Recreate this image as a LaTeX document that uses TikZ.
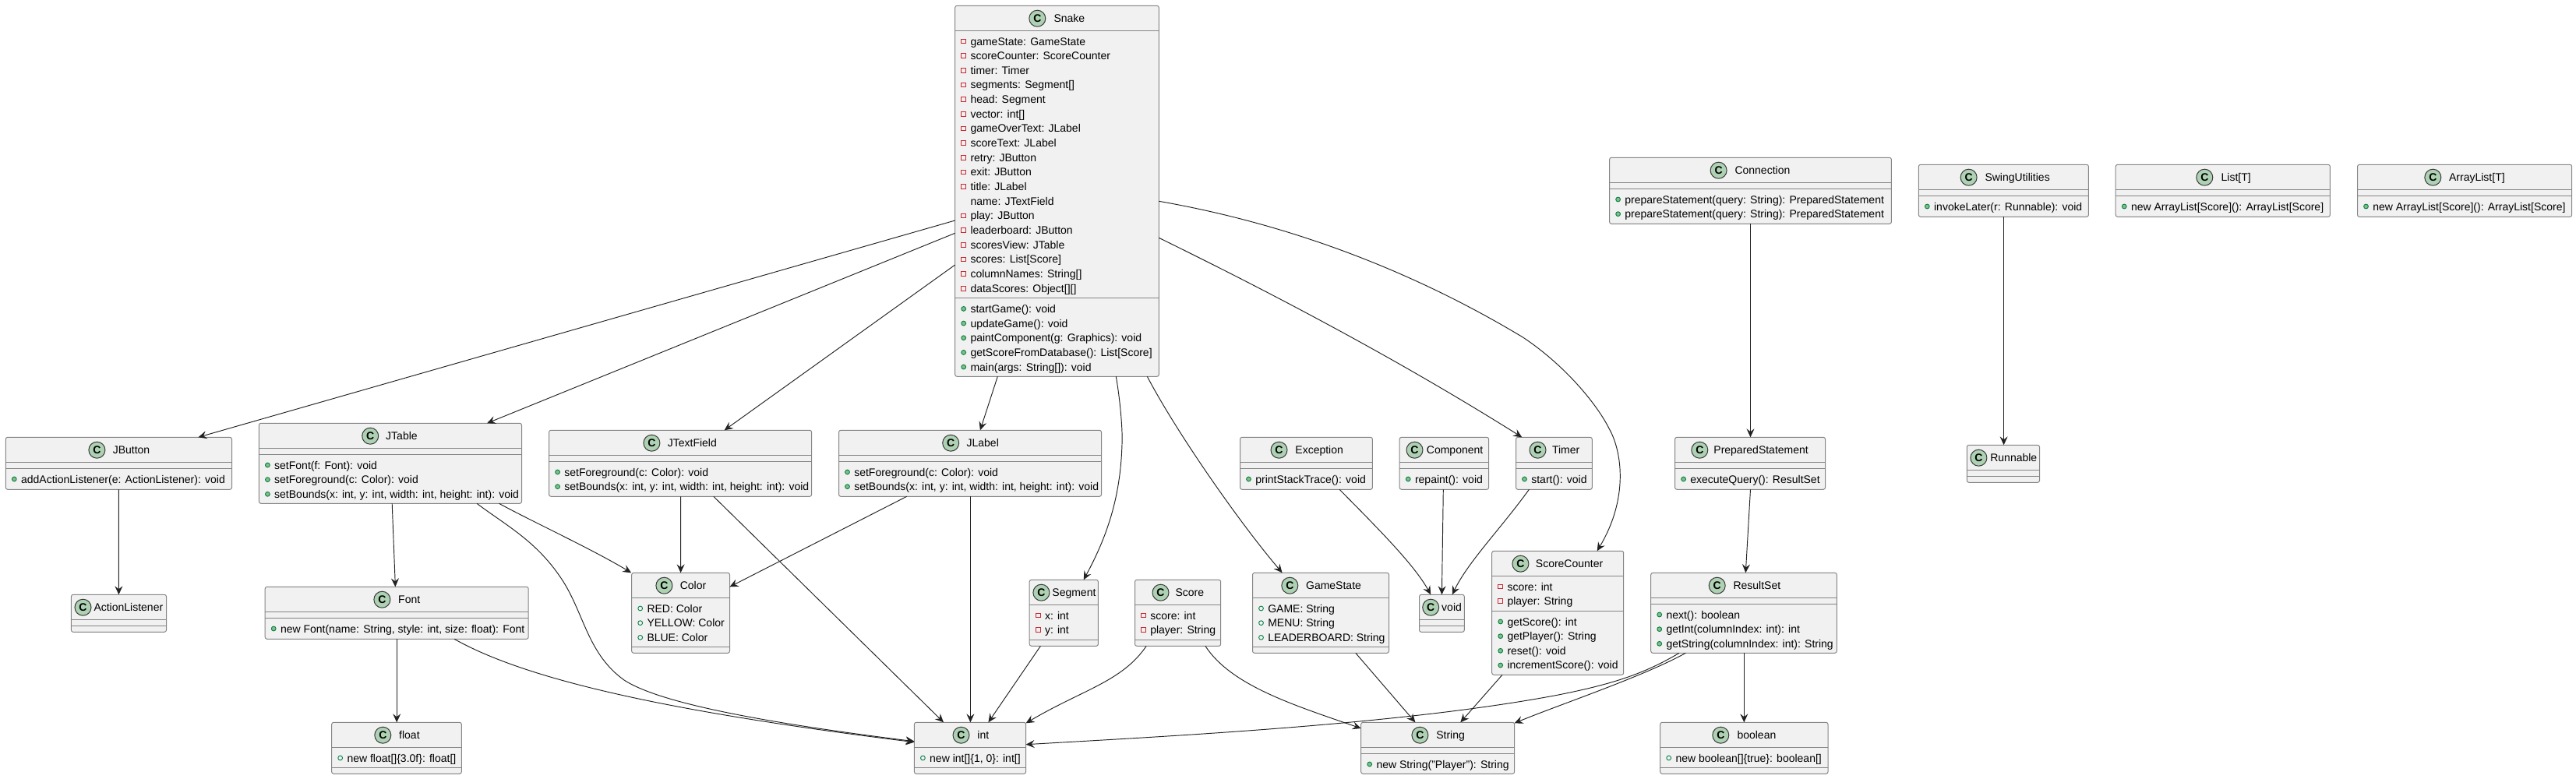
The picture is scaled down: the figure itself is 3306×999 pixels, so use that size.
\documentclass[tikz,border=0pt]{standalone}
\usepackage{fontspec}
\setmainfont{Liberation Sans}
\usetikzlibrary{arrows.meta,calc}
\definecolor{boxfill}{HTML}{F1F1F1}
\definecolor{boxline}{HTML}{858585}
\definecolor{relline}{HTML}{222222}
\definecolor{iconfill}{HTML}{ADD1B2}
\definecolor{iconline}{HTML}{3A3A3A}
\definecolor{privred}{HTML}{C82930}
\definecolor{pubfill}{HTML}{84BE84}
\definecolor{publine}{HTML}{038048}
\tikzset{
  umlbox/.style={draw=boxline,fill=boxfill,line width=1pt,rounded corners=2.5pt,inner sep=0pt,outer sep=0pt},
  umlrule/.style={draw=boxline,line width=1pt},
  umlicon/.style={circle,draw=iconline,fill=iconfill,line width=1pt,minimum size=21pt,inner sep=0pt,font=\fontsize{14}{14}\selectfont\bfseries},
  umltitle/.style={anchor=base west,inner sep=0pt,font=\fontsize{14}{16}\selectfont},
  memtext/.style={anchor=base west,inner sep=0pt,font=\fontsize{14}{16}\selectfont},
  markp/.style={rectangle,draw=privred,line width=1pt,minimum size=5.6pt,inner sep=0pt},
  markm/.style={circle,draw=publine,fill=pubfill,line width=.9pt,minimum size=5.8pt,inner sep=0pt},
  marko/.style={circle,draw=publine,line width=.9pt,minimum size=5.8pt,inner sep=0pt},
  markn/.style={inner sep=0pt,minimum size=0pt},
  rel/.style={draw=relline,line width=.95pt,-{Stealth[length=11pt,width=10pt,inset=4pt]}}
}
\newcount\umlrown
\newcommand{\umlclass}[7]{%
  \node[umlbox,minimum width={(#4-#2)*1pt},minimum height={(#5-#3)*1pt}] (#1) at ({(#2+#4)/2},{(#3+#5)/2}) {};
  \draw[umlrule] (#2,#6) -- (#4,#6);
  \draw[umlrule] (#2,#7) -- (#4,#7);
  \edef\curx{#2}\edef\curtop{#3}\edef\curid{#1}\edef\cury{#6}\def\rowi{0}%
}
\newcommand{\umlhead}[3]{%
  \pgfmathsetmacro\iconY{\curtop+16.4}
  \pgfmathsetmacro\titleY{\curtop+21.6}
  \node[umlicon] (\curid-icon) at (#2,\iconY) {C};
  \node[umltitle] (\curid-title) at (#3,\titleY) {#1};
}
\newcommand{\umlsec}[1]{\edef\cury{#1}\def\rowi{0}}
\newcommand{\umlrow}[2]{%
  \pgfmathsetmacro\rowy{\cury+18.7+18.66*\rowi}
  \pgfmathsetmacro\marky{\rowy-5}
  \pgfmathsetmacro\markx{\curx+11}
  \pgfmathsetmacro\textx{\curx+19.6}
  \global\advance\umlrown by 1
  \node[mark#1] (\curid-m\the\umlrown) at (\markx,\marky) {};
  \node[memtext] (\curid-t\the\umlrown) at (\textx,\rowy) {#2};
  \pgfmathsetmacro\rowi{\rowi+1}
}
\begin{document}
\begin{tikzpicture}[x=1pt,y=-1pt]
\useasboundingbox (0,0) rectangle (3306,999);

\umlclass{Snake}{1225.7}{7.3}{1487.3}{483.3}{39.3}{382.7}
\umlhead{Snake}{1331.3}{1352.3}
\umlrow{p}{gameState: GameState}
\umlrow{p}{scoreCounter: ScoreCounter}
\umlrow{p}{timer: Timer}
\umlrow{p}{segments: Segment[]}
\umlrow{p}{head: Segment}
\umlrow{p}{vector: int[]}
\umlrow{p}{gameOverText: JLabel}
\umlrow{p}{scoreText: JLabel}
\umlrow{p}{retry: JButton}
\umlrow{p}{exit: JButton}
\umlrow{p}{title: JLabel}
\umlrow{n}{name: JTextField}
\umlrow{p}{play: JButton}
\umlrow{p}{leaderboard: JButton}
\umlrow{p}{scoresView: JTable}
\umlrow{p}{scores: List[Score]}
\umlrow{p}{columnNames: String[]}
\umlrow{p}{dataScores: Object[][]}
\umlsec{382.7}
\umlrow{m}{startGame(): void}
\umlrow{m}{updateGame(): void}
\umlrow{m}{paintComponent(g: Graphics): void}
\umlrow{m}{getScoreFromDatabase(): List[Score]}
\umlrow{m}{main(args: String[]): void}

\umlclass{JButton}{7.3}{561.3}{297.5}{628.3}{593.3}{601.3}
\umlhead{JButton}{124.4}{144.6}
\umlsec{601.3}
\umlrow{m}{addActionListener(e: ActionListener): void}

\umlclass{JTable}{332.4}{543.3}{669.5}{646.3}{575.3}{583.3}
\umlhead{JTable}{475.2}{495}
\umlsec{583.3}
\umlrow{m}{setFont(f: Font): void}
\umlrow{m}{setForeground(c: Color): void}
\umlrow{m}{setBounds(x: int, y: int, width: int, height: int): void}

\umlclass{ActionListener}{91.4}{763.3}{213.5}{811.3}{795.3}{803.3}
\umlhead{ActionListener}{106.5}{120.3}

\umlclass{Font}{340.2}{753.3}{678.2}{820.3}{785.3}{793.3}
\umlhead{Font}{490.4}{511}
\umlsec{793.3}
\umlrow{m}{new Font(name: String, style: int, size: float): Font}

\umlclass{float}{425.7}{927.3}{592.3}{993.3}{959.3}{985.3}
\umlhead{float}{491.3}{512}
\umlrow{o}{new float[]\{3.0f\}: float[]}

\umlclass{JTextField}{704.6}{552.3}{1041.6}{637.3}{584.3}{592.3}
\umlhead{JTextField}{836.4}{856.6}
\umlsec{592.3}
\umlrow{m}{setForeground(c: Color): void}
\umlrow{m}{setBounds(x: int, y: int, width: int, height: int): void}

\umlclass{JLabel}{1076.5}{552.3}{1413.5}{637.3}{584.3}{592.3}
\umlhead{JLabel}{1220.2}{1240.4}
\umlsec{592.3}
\umlrow{m}{setForeground(c: Color): void}
\umlrow{m}{setBounds(x: int, y: int, width: int, height: int): void}

\umlclass{Color}{810.7}{735.3}{936.5}{838.3}{767.3}{830.3}
\umlhead{Color}{852.4}{872.6}
\umlrow{o}{RED: Color}
\umlrow{o}{YELLOW: Color}
\umlrow{o}{BLUE: Color}

\umlclass{Segment}{1321.2}{744.3}{1409.4}{829.3}{776.3}{821.3}
\umlhead{Segment}{1336.4}{1350.2}
\umlrow{p}{x: int}
\umlrow{p}{y: int}

\umlclass{int}{1173.4}{927.3}{1316.6}{993.3}{959.3}{985.3}
\umlhead{int}{1233.5}{1254.2}
\umlrow{o}{new int[]\{1, 0\}: int[]}

\umlclass{Score}{1456.5}{744.3}{1566.7}{829.3}{776.3}{821.3}
\umlhead{Score}{1489.5}{1508.4}
\umlrow{p}{score: int}
\umlrow{p}{player: String}

\umlclass{Exception}{1591.5}{561.3}{1761.4}{628.3}{593.3}{601.3}
\umlhead{Exception}{1641.5}{1662.2}
\umlsec{601.3}
\umlrow{m}{printStackTrace(): void}

\umlclass{Component}{1796.2}{561.3}{1910.6}{628.3}{593.3}{601.3}
\umlhead{Component}{1815.5}{1830.7}
\umlsec{601.3}
\umlrow{m}{repaint(): void}

\umlclass{Timer}{1945.5}{561.3}{2043.3}{628.3}{593.3}{601.3}
\umlhead{Timer}{1973.5}{1991.8}
\umlsec{601.3}
\umlrow{m}{start(): void}

\umlclass{GameState}{1607.5}{735.3}{1782.5}{838.3}{767.3}{830.3}
\umlhead{GameState}{1655.3}{1675.9}
\umlrow{o}{GAME: String}
\umlrow{o}{MENU: String}
\umlrow{o}{LEADERBOARD: String}

\umlclass{void}{1821.5}{763.3}{1879.3}{811.3}{795.3}{803.3}
\umlhead{void}{1836.2}{1850}

\umlclass{ScoreCounter}{1914.7}{707.3}{2083.7}{866.3}{739.3}{784.3}
\umlhead{ScoreCounter}{1951.4}{1970.7}
\umlrow{p}{score: int}
\umlrow{p}{player: String}
\umlsec{784.3}
\umlrow{m}{getScore(): int}
\umlrow{m}{getPlayer(): String}
\umlrow{m}{reset(): void}
\umlrow{m}{incrementScore(): void}

\umlclass{String}{1746.7}{927.3}{1943.6}{993.3}{959.3}{967.3}
\umlhead{String}{1822.4}{1843.1}
\umlsec{967.3}
\umlrow{m}{new String("Player"): String}

\umlclass{Connection}{2065.6}{202.3}{2427.4}{287.3}{234.3}{242.3}
\umlhead{Connection}{2205.6}{2226.3}
\umlsec{242.3}
\umlrow{m}{prepareStatement(query: String): PreparedStatement}
\umlrow{m}{prepareStatement(query: String): PreparedStatement}

\umlclass{SwingUtilities}{2462.3}{211.3}{2680.4}{278.3}{243.3}{251.3}
\umlhead{SwingUtilities}{2526.6}{2547.3}
\umlsec{251.3}
\umlrow{m}{invokeLater(r: Runnable): void}

\umlclass{List}{2715.2}{211.3}{2990.4}{278.3}{243.3}{251.3}
\umlhead{List[T]}{2829.3}{2850.4}
\umlsec{251.3}
\umlrow{m}{new ArrayList[Score](): ArrayList[Score]}

\umlclass{ArrayList}{3025.5}{211.3}{3300.7}{278.3}{243.3}{251.3}
\umlhead{ArrayList[T]}{3122.3}{3142.9}
\umlsec{251.3}
\umlrow{m}{new ArrayList[Score](): ArrayList[Score]}

\umlclass{PreparedStatement}{2149.6}{561.3}{2342.5}{628.3}{593.3}{601.3}
\umlhead{PreparedStatement}{2181.3}{2199.2}
\umlsec{601.3}
\umlrow{m}{executeQuery(): ResultSet}

\umlclass{Runnable}{2524.3}{571.3}{2617.5}{619.3}{603.3}{611.3}
\umlhead{Runnable}{2539.4}{2554.1}

\umlclass{ResultSet}{2118.7}{735.3}{2357.3}{838.3}{767.3}{775.3}
\umlhead{ResultSet}{2203.7}{2224.3}
\umlsec{775.3}
\umlrow{m}{next(): boolean}
\umlrow{m}{getInt(columnIndex: int): int}
\umlrow{m}{getString(columnIndex: int): String}

\umlclass{boolean}{2130.7}{927.3}{2346}{993.3}{959.3}{985.3}
\umlhead{boolean}{2208.3}{2229.3}
\umlrow{o}{new boolean[]\{true\}: boolean[]}

% connectors
\draw[rel] ([yshift=-275.7pt]Snake.north west) -- ([xshift=247.1pt]JButton.north west);
\draw[rel] ([yshift=-292pt]Snake.north west) -- ([xshift=292.6pt]JTable.north west);
\draw[rel] ([yshift=-332.7pt]Snake.north west) -- ([xshift=225pt]JTextField.north west);
\draw[rel] ([xshift=54.6pt]Snake.south west) -- ([xshift=181.4pt]JLabel.north west);
\draw[rel] ([xshift=206.6pt]Snake.south west) .. controls (1437,510) and (1441,550) .. (1440,570) .. controls (1438,640) and (1420,690) .. ([xshift=69.5pt]Segment.north west);
\draw[rel] ([xshift=246.6pt]Snake.south west) .. controls (1510,555) and (1590,670) .. ([xshift=38.1pt]GameState.north west);
\draw[rel] ([yshift=-298pt]Snake.north east) .. controls (1640,380) and (1800,465) .. ([xshift=7.8pt]Timer.north west);
\draw[rel] ([yshift=-251pt]Snake.north east) .. controls (1640,285) and (1800,340) .. (1954.5,433) .. controls (2010,470) and (2050,520) .. (2065,550) .. controls (2082,580) and (2090,640) .. ([xshift=135pt]ScoreCounter.north west);

\draw[rel] ([xshift=145.1pt]JButton.south west) -- ([xshift=61pt]ActionListener.north west);
\draw[rel] ([xshift=170.8pt]JTable.south west) -- ([xshift=167.2pt]Font.north west);
\draw[rel] ([xshift=308.1pt]JTable.south west) .. controls (680,668) and (760,705) .. ([xshift=-0.5pt]Color.north west);
\draw[rel] ([xshift=279.6pt]JTable.south west) .. controls (650,675) and (690,695) .. (723,746.7) .. controls (750,790) and (755,840) .. (801,873) .. controls (850,905) and (1000,930) .. ([yshift=-24.4pt]int.north west);
\draw[rel] ([xshift=169pt]Font.south west) -- ([xshift=83.5pt]float.north west);
\draw[rel] ([xshift=242.8pt]Font.south west) .. controls (680,875) and (870,915) .. ([yshift=-25.4pt]int.north west);
\draw[rel] ([xshift=169pt]JTextField.south west) -- ([xshift=62.9pt]Color.north west);
\draw[rel] ([xshift=211.2pt]JTextField.south west) -- ([xshift=37.6pt]int.north west);
\draw[rel] ([xshift=87.2pt]JLabel.south west) -- ([yshift=-18pt]Color.north east);
\draw[rel] ([xshift=168.9pt]JLabel.south west) -- ([xshift=72pt]int.north west);
\draw[rel] ([xshift=14.2pt]Segment.south west) -- ([xshift=95pt]int.north west);
\draw[rel] ([xshift=14.7pt]Score.south west) .. controls (1440,875) and (1390,885) .. ([yshift=-1pt]int.north east);
\draw[rel] ([xshift=90.4pt]Score.south west) .. controls (1580,880) and (1660,905) .. ([yshift=-7.7pt]String.north west);
\draw[rel] ([xshift=132.3pt]GameState.south west) -- ([xshift=69.7pt]String.north west);
\draw[rel] ([xshift=127.6pt]Exception.south west) .. controls (1770,680) and (1815,725) .. ([xshift=14.7pt]void.north west);
\draw[rel] ([xshift=56.1pt]Component.south west) -- ([xshift=28.9pt]void.north west);
\draw[rel] ([xshift=16.9pt]Timer.south west) .. controls (1925,680) and (1885,720) .. ([xshift=42.2pt]void.north west);
\draw[rel] ([xshift=13.3pt]ScoreCounter.south west) -- ([xshift=127.6pt]String.north west);
\draw[rel] ([xshift=44.6pt]ResultSet.south west) .. controls (2110,868) and (2000,905) .. ([yshift=-1pt]String.north east);
\draw[rel] ([xshift=36.3pt]ResultSet.south west) .. controls (2110,865) and (2070,878) .. (2000,892) .. controls (1800,930) and (1500,945) .. ([yshift=-28.4pt]int.north east);
\draw[rel] ([xshift=96.9pt]PreparedStatement.south west) -- ([xshift=121.6pt]ResultSet.north west);
\draw[rel] ([xshift=119.6pt]ResultSet.south west) -- ([xshift=107.6pt]boolean.north west);
\draw[rel] ([xshift=180.9pt]Connection.south west) -- ([xshift=96.9pt]PreparedStatement.north west);
\draw[rel] ([xshift=109.3pt]SwingUtilities.south west) -- ([xshift=47.3pt]Runnable.north west);
\end{tikzpicture}
\end{document}
